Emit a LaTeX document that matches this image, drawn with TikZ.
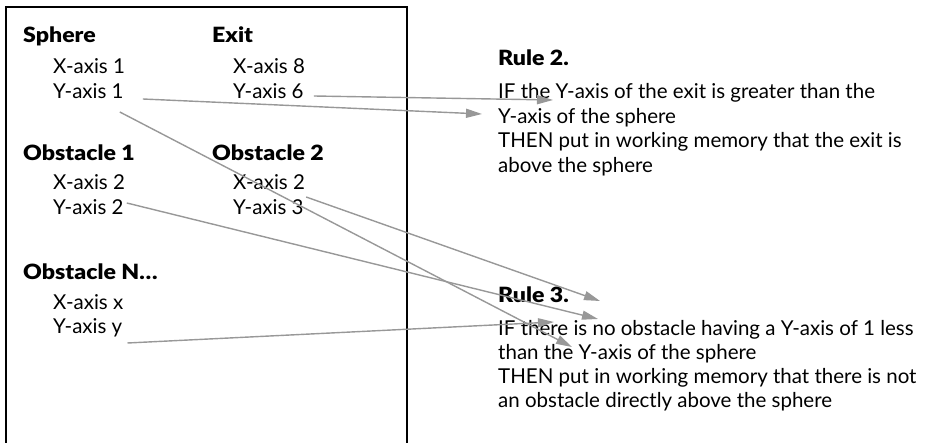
\documentclass[tikz,border=0pt]{standalone}
\usepackage{fontspec}
\setmainfont{Lato}
\IfFontExistsTF{Lato Black}{\newfontfamily\headfont[FakeStretch=1.1]{Lato Black}}{\newcommand\headfont{\bfseries}}
\usetikzlibrary{arrows.meta}
\definecolor{linegray}{RGB}{152,152,152}
\begin{document}
\begin{tikzpicture}[x=1pt,y=-1pt,
  txt/.style={anchor=base west,inner sep=0pt,font=\fontsize{20.5}{24}\selectfont},
  head/.style={txt,font=\fontsize{21}{24}\selectfont\headfont},
  conn/.style={draw=linegray,line width=1.4pt,-{Triangle[length=16pt,width=9pt]},fill=linegray}]
\useasboundingbox (0,0) rectangle (943,443);
\draw[line width=1.3pt] (6,460) -- (6,7) -- (407,7) -- (407,460);
% left panel
\node[head] (hs) at (23,43) {Sphere};
\node[head] (he) at (212,43) {Exit};
\node[txt] (xs1) at (53,74) {X-axis 1};
\node[txt] (ys1) at (53,99) {Y-axis 1};
\node[txt] (xe8) at (233,74) {X-axis 8};
\node[txt] (ye6) at (233,99) {Y-axis 6};
\node[head] (ho1) at (23,161) {Obstacle 1};
\node[head] (ho2) at (212,161) {Obstacle 2};
\node[txt] (xo1) at (53,190) {X-axis 2};
\node[txt] (yo1) at (53,215) {Y-axis 2};
\node[txt] (xo2) at (233,190) {X-axis 2};
\node[txt] (yo2) at (233,215) {Y-axis 3};
\node[head] (hon) at (23,280) {Obstacle N\ldots};
\node[txt] (xon) at (53,310) {X-axis x};
\node[txt] (yon) at (53,334) {Y-axis y};
% rules
\node[head] (r2) at (498,66) {Rule 2.};
\node[txt] (r2a) at (498,99) {IF the Y-axis of the exit is greater than the};
\node[txt] (r2b) at (498,123.5) {Y-axis of the sphere};
\node[txt] (r2c) at (498,148) {THEN put in working memory that the exit is};
\node[txt] (r2d) at (498,172.5) {above the sphere};
\node[head] (r3) at (498,303) {Rule 3.};
\node[txt] (r3a) at (498,336) {IF there is no obstacle having a Y-axis of 1 less};
\node[txt] (r3b) at (498,360) {than the Y-axis of the sphere};
\node[txt] (r3c) at (498,384) {THEN put in working memory that there is not};
\node[txt] (r3d) at (498,408) {an obstacle directly above the sphere};
% arrow tips
\coordinate (t1) at (553,100);
\coordinate (t2) at (482,114);
\coordinate (t3) at (572,347);
\coordinate (t4) at (600,301);
\coordinate (t5) at (598,319);
\coordinate (t6) at (554,322);
% connectors
\draw[conn] ([shift={(10,-3)}]ye6.base east) -- (t1);
\draw[conn] ([shift={(19,0)}]ys1.base east) -- (t2);
\draw[conn] ([shift={(-4,13)}]ys1.base east) -- (t3);
\draw[conn] ([shift={(1,7)}]xo2.base east) -- (t4);
\draw[conn] ([shift={(3,-12)}]yo1.base east) -- (t5);
\draw[conn] ([shift={(5,9)}]yon.base east) -- (t6);
\end{tikzpicture}
\end{document}
